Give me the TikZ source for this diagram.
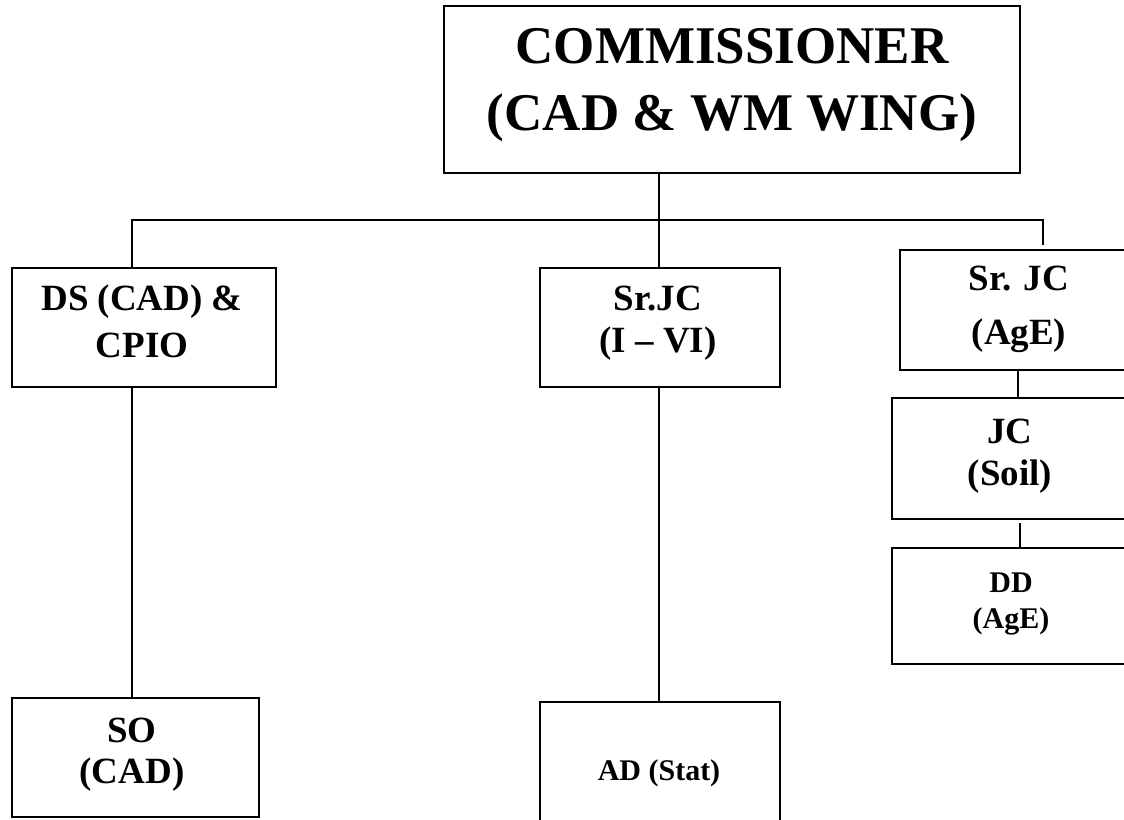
\documentclass[tikz,border=0pt]{standalone}
\usepackage{fontspec}
\setmainfont{Liberation Serif}
\begin{document}
\begin{tikzpicture}[x=1pt,y=-1pt,
  box/.style={draw=black, line width=2.2pt, rectangle, inner sep=0pt, outer sep=0pt},
  conn/.style={draw=black, line width=2.2pt},
  big/.style={anchor=base, inner sep=0pt, font=\fontsize{53}{60}\selectfont\bfseries},
  mid/.style={anchor=base, inner sep=0pt, font=\fontsize{37}{44}\selectfont\bfseries},
  small/.style={anchor=base, inner sep=0pt, font=\fontsize{30}{36}\selectfont\bfseries}]
\clip (0,0) rectangle (1124,819);
\fill[white] (0,0) rectangle (1124,819);
% boxes
\node[box, minimum width=576pt, minimum height=167pt] (comm) at (732,89.5) {};
\node[box, minimum width=264pt, minimum height=119pt] (ds) at (144,327.5) {};
\node[box, minimum width=240pt, minimum height=119pt] (srjc) at (660,327.5) {};
\node[box, minimum width=240pt, minimum height=120pt] (age) at (1020,310) {};
\node[box, minimum width=248pt, minimum height=121pt] (jc) at (1016,458.5) {};
\node[box, minimum width=248pt, minimum height=116pt] (dd) at (1016,606) {};
\node[box, minimum width=247pt, minimum height=119pt] (so) at (135.5,757.5) {};
\node[box, minimum width=240pt, minimum height=138pt] (ad) at (660,771) {};
% texts
\node[big] (t1) at (732,63) {COMMISSIONER};
\node[big] (t2) at (732,130) {(CAD \& WM WING)};
\node[mid] (t3) at (142,310) {DS (CAD) \&};
\node[mid] (t4) at (142,357) {CPIO};
\node[mid] (t5) at (658,310) {Sr.JC};
\node[mid] (t6) at (658,352) {(I – VI)};
\node[mid] (t7) at (1019,290) {Sr. JC};
\node[mid] (t8) at (1019,344) {(AgE)};
\node[mid] (t9) at (1010,443) {JC};
\node[mid] (t10) at (1010,485) {(Soil)};
\node[small] (t11) at (1011,592) {DD};
\node[small] (t12) at (1011,628) {(AgE)};
\node[mid] (t13) at (132,742) {SO};
\node[mid] (t14) at (132,783) {(CAD)};
\node[small] (t15) at (659,780) {AD (Stat)};
% connectors
\coordinate (j) at (659,220);
\coordinate (jl) at (132,220);
\coordinate (jr) at (1043,220);
\coordinate (jre) at (1043,245);
\draw[conn] (comm.south -| j) -- (j);
\draw[conn] (jl |- ds.north) -- (jl) -- (jr) -- (jre);
\draw[conn] (j) -- (j |- srjc.north);
\draw[conn] (jl |- ds.south) -- (jl |- so.north);
\draw[conn] (j |- srjc.south) -- (j |- ad.north);
\draw[conn] ([xshift=-2pt]age.south) -- ([xshift=-2pt]age.south |- jc.north);
\draw[conn] ([xshift=4pt,yshift=-4pt]jc.south) -- ([xshift=4pt]jc.south |- dd.north);
\end{tikzpicture}
\end{document}
